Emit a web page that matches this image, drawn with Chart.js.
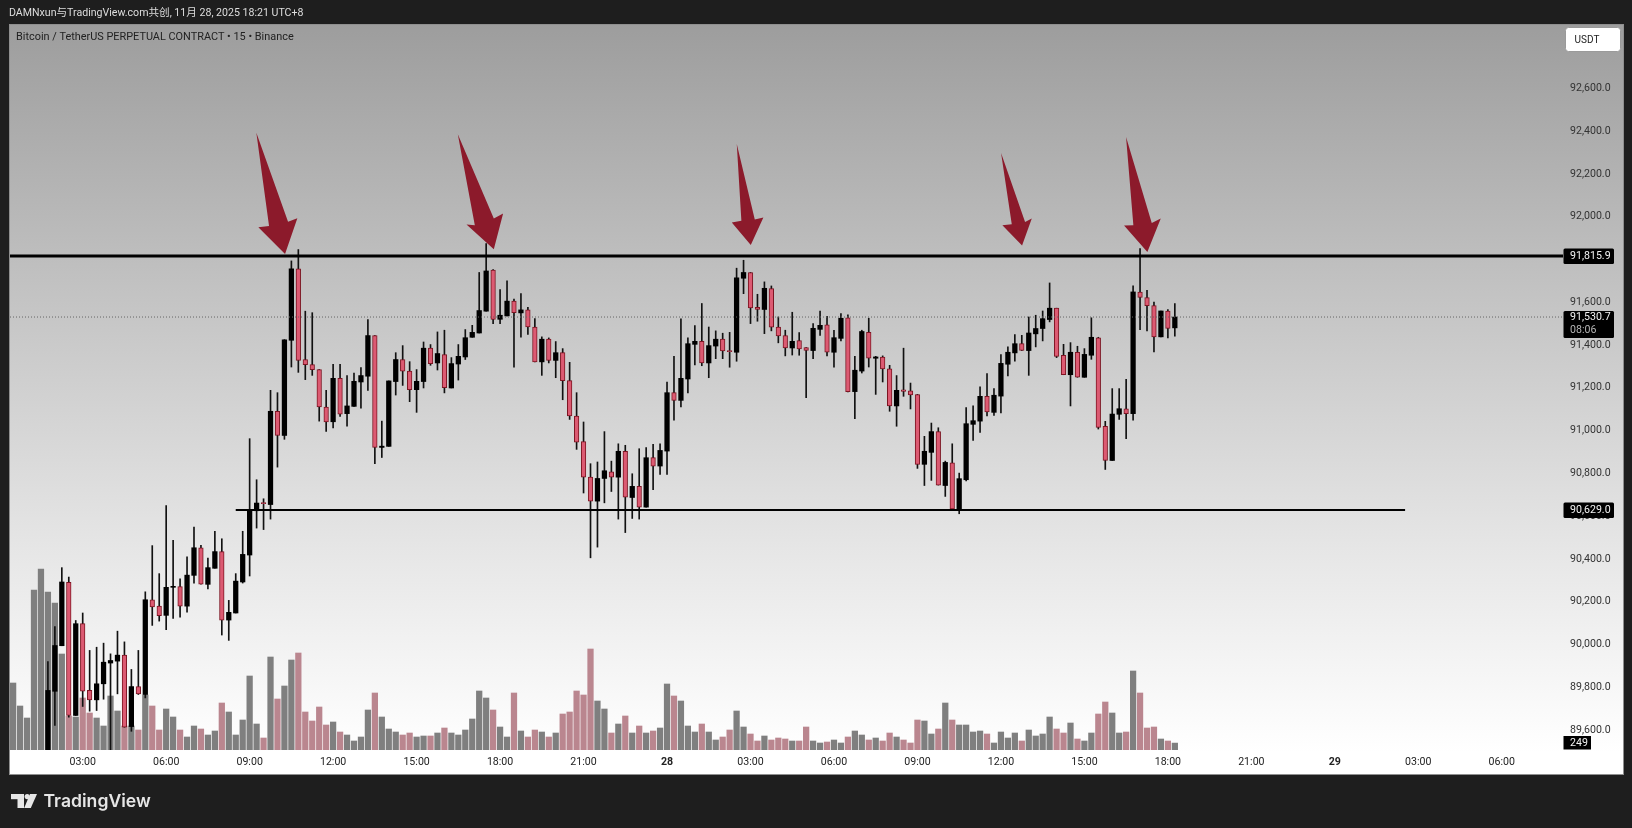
<!DOCTYPE html>
<html><head><meta charset="utf-8">
<script src="https://cdn.jsdelivr.net/npm/chart.js@4/dist/chart.umd.min.js"></script>
<style>html,body{margin:0;padding:0;background:#1e1e1e}canvas{display:block}</style>
</head><body><canvas id="c" width="1632" height="828"></canvas>
<script>
// 15-minute bars, index 0 = 27 Nov 00:30. Bars 0-4 sit below the visible price range.
const opens = [null,null,null,null,null,89488,89781,89994,90290,89668,
90097,89785,89741,89816,89913,89922,89950,89616,89803,89766,
90209,90179,90136,90267,90271,90179,90323,90452,90281,90356,
90434,90114,90147,90292,90418,90625,90662,90654,91090,90977,
91422,91756,91332,91308,91285,91110,91041,91244,91079,91113,
91227,91254,91444,90921,90926,91229,91332,91278,91191,91229,
91385,91316,91355,91199,91311,91344,91436,91456,91558,91750,
91520,91536,91605,91550,91564,91484,91321,91427,91328,91364,
91233,91068,90948,90782,90670,90776,90807,90782,90903,90687,
90739,90642,90873,90834,90904,91177,91141,91241,91403,91417,
91316,91395,91427,91374,91366,91712,91739,91576,91566,91664,
91484,91444,91386,91420,91388,91374,91473,91494,91366,91431,
91527,91182,91278,91459,91338,91344,91289,91115,91190,91186,
91168,90842,90898,90995,90743,90849,90633,90770,91029,91044,
91160,91085,91161,91310,91363,91406,91374,91452,91477,91519,
91572,91352,91261,91366,91249,91352,91434,91020,90860,91076,
91102,91079,91647,91622,91584,91438,91559,91480];
const highs = [null,null,null,null,null,89920,90084,90359,90315,90112,
90147,89972,89987,90006,89956,90062,90012,89883,89972,90246,
90462,90331,90649,90487,90307,90409,90549,90463,90404,90529,
90494,90206,90331,90529,90962,90770,90681,91188,91177,91425,
91793,91846,91558,91551,91285,91188,91310,91310,91257,91269,
91294,91519,91444,91044,91232,91364,91397,91322,91285,91414,
91402,91461,91469,91341,91402,91472,91492,91739,91874,91753,
91659,91700,91615,91640,91576,91523,91438,91433,91416,91383,
91319,91177,91040,90845,90853,90995,90857,90938,90931,90798,
90915,90920,90935,90938,91227,91347,91522,91434,91491,91594,
91484,91466,91455,91459,91759,91796,91739,91637,91695,91676,
91531,91469,91553,91458,91388,91500,91559,91534,91469,91547,
91541,91347,91469,91525,91347,91349,91305,91257,91385,91222,
91169,90973,91035,91013,90857,90938,90801,91107,91115,91204,
91266,91196,91355,91391,91449,91445,91531,91539,91559,91690,
91572,91403,91411,91394,91383,91527,91436,91043,91196,91196,
91239,91676,91851,91656,91601,91559,91566,91594];
const lows = [null,null,null,null,null,89473,89621,89994,89660,89668,
89710,89688,89691,89744,89457,89769,89613,89594,89766,89750,
90089,90109,90069,90122,90128,90151,90287,90282,90260,90356,
90044,90019,90147,90287,90320,90544,90537,90586,90829,90959,
91297,91272,91238,91258,91044,90996,91012,91066,91020,91113,
91105,91188,90845,90874,90926,91166,91211,91135,91085,91199,
91305,91283,91176,91199,91236,91332,91436,91456,91558,91500,
91500,91536,91296,91436,91449,91321,91258,91316,91247,91144,
91052,90912,90708,90405,90455,90662,90715,90586,90523,90589,
90586,90642,90723,90795,90795,91048,91110,91176,91307,91303,
91247,91336,91336,91296,91324,91640,91500,91511,91453,91466,
91410,91349,91353,91352,91154,91336,91445,91349,91296,91419,
91180,91055,91269,91297,91169,91227,91090,91020,91160,91101,
90823,90743,90767,90745,90692,90633,90611,90764,90954,90991,
91068,91071,91082,91255,91324,91374,91258,91391,91419,91508,
91341,91261,91115,91249,91249,91333,91007,90818,90860,91052,
90962,91048,91472,91466,91367,91438,91433,91441];
const closes = [null,null,null,null,null,89785,89995,90292,89668,90097,
89781,89741,89816,89917,89925,89950,89613,89803,89769,90209,
90175,90134,90267,90271,90179,90324,90452,90282,90359,90434,
90114,90150,90296,90421,90624,90661,90658,91090,90977,91424,
91756,91328,91308,91285,91110,91040,91244,91076,91115,91230,
91257,91444,90921,90927,91232,91332,91278,91191,91230,91385,
91313,91360,91200,91313,91347,91434,91459,91561,91746,91520,
91539,91605,91551,91564,91484,91321,91427,91328,91364,91233,
91068,90946,90782,90670,90776,90812,90782,90903,90689,90739,
90642,90873,90834,90907,91177,91141,91244,91406,91417,91316,
91397,91427,91372,91369,91714,91739,91573,91566,91665,91483,
91442,91386,91417,91381,91375,91478,91492,91366,91434,91525,
91182,91282,91463,91338,91344,91288,91115,91188,91183,91166,
90842,90903,90995,90745,90851,90633,90775,91032,91046,91160,
91087,91165,91314,91366,91406,91374,91456,91477,91523,91572,
91347,91261,91366,91250,91356,91436,91015,90860,91077,91102,
91079,91648,91622,91584,91438,91559,91478,91530.7];
const volumes = [2412,1584,1152,5760,6516,5688,5292,3456,1224,1188,
1872,1332,1152,864,1944,1404,864,864,720,1980,
1584,720,1476,1188,720,468,864,756,540,684,
1692,1368,540,1080,2664,936,432,3348,1836,2304,
3240,3492,1368,1044,1548,900,1008,648,540,324,
468,1440,2052,1188,756,648,540,612,468,504,
504,612,792,612,540,720,1116,2124,1872,1440,
828,468,2052,684,468,720,648,468,612,1296,
1368,2124,1980,3636,1764,1476,612,936,1224,612,
864,612,684,792,2376,1944,1764,864,648,936,
648,360,468,720,1404,828,576,324,504,360,
432,396,324,324,828,324,252,288,360,252,
468,684,540,360,432,324,612,468,360,252,
1080,1044,576,756,1692,1080,900,900,648,684,
576,252,648,432,612,324,720,504,576,1188,
756,612,972,396,324,612,1296,1728,1332,612,
648,2844,2052,792,828,396,324,249];

const xTickIndex = [10,22,34,46,58,70,82,94,106,118,130,142,154,166,178,190,202,214];
const xTickLabels = ['03:00','06:00','09:00','12:00','15:00','18:00','21:00','28','03:00','06:00','09:00','12:00','15:00','18:00','21:00','29','03:00','06:00'];
const xBoldLabels = ['28','29'];
const yTicks = [89600,89800,90000,90200,90400,90600,90800,91000,91200,91400,91600,91800,92000,92200,92400,92600];

const resistance = 91815.9, support = 90629.0, lastPrice = 91530.7;
const supportFrom = 32, supportTo = 200.1;
const lastVolume = 249;
const arrowTips = [[39.09,91825],[69.1,91848],[106.04,91867],[145.04,91865],[163.05,91835]];
// outline of each hand-drawn arrow, in pixels relative to its tip
const arrowOutlines = [
 [[-28.7,-121.3],[3,-32.3],[12.3,-35.7],[0,0],[-26.7,-26.7],[-16,-28]],
 [[-36,-115],[0,-30.7],[9.3,-35.7],[0,0],[-27.3,-24.7],[-19,-24]],
 [[-14,-101],[4,-25.7],[12.6,-27.7],[0,0],[-19,-22.7],[-9.4,-24.3]],
 [[-21,-92.6],[3,-23.6],[9.7,-27],[0,0],[-19.7,-20.3],[-10.3,-21.3]],
 [[-21.3,-115],[4.4,-29],[13.4,-33.4],[0,0],[-23.3,-26.4],[-14,-26.7]]
];
const headerText = 'DAMNxun与TradingView.com共创, 11月 28, 2025 18:21 UTC+8';
const titleText = 'Bitcoin / TetherUS PERPETUAL CONTRACT • 15 • Binance';
const FONT = 'Roboto, "Noto Sans CJK SC", sans-serif';

const fmt = v => v.toLocaleString('en-US',{minimumFractionDigits:1,maximumFractionDigits:1});
const isDown = i => opens[i]!==null && opens[i]>closes[i];
const idx = opens.map((_,i)=>i);
const shown = idx.filter(i=>opens[i]!==null);
const XMIN=-0.45, XMAX=222.8;

const frame = {
  id:'frame',
  beforeDraw(ch){
    const c=ch.ctx, W=ch.width, H=ch.height;
    c.save();
    c.fillStyle='#1e1e1e'; c.fillRect(0,0,W,H);
    const g=c.createLinearGradient(0,24,0,752);
    g.addColorStop(0,'#9d9d9d'); g.addColorStop(.4,'#c6c6c6'); g.addColorStop(.72,'#e6e6e6'); g.addColorStop(1,'#ffffff');
    c.fillStyle='#ffffff'; c.fillRect(10,24,1613,750);
    c.fillStyle=g; c.fillRect(10,24,1613,728);
    c.strokeStyle='#8f8f8f'; c.lineWidth=1; c.strokeRect(9.5,24.5,1614,750);
    c.restore();
  },
  afterDraw(ch){
    const c=ch.ctx, xs=ch.scales.x, ys=ch.scales.y;
    c.save();
    // arrows
    c.fillStyle='#8c1a2b';
    arrowTips.forEach((t,k)=>{
      const px=xs.getPixelForValue(t[0]), py=ys.getPixelForValue(t[1]);
      c.beginPath();
      arrowOutlines[k].forEach((p,i)=>{ i?c.lineTo(px+p[0],py+p[1]):c.moveTo(px+p[0],py+p[1]); });
      c.closePath(); c.fill();
    });
    // header and title
    c.textBaseline='middle'; c.textAlign='left';
    c.fillStyle='#dedede'; c.font='10.6px '+FONT; c.fillText(headerText,9,13);
    c.fillStyle='#222'; c.font='10.9px '+FONT; c.fillText(titleText,16,37);
    // currency button
    c.beginPath(); c.roundRect(1565.5,27.5,55,24,3); c.fillStyle='#fff'; c.fill();
    c.strokeStyle='#9a9a9a'; c.stroke();
    c.fillStyle='#222'; c.font='10px '+FONT; c.textAlign='center'; c.fillText('USDT',1587,40);
    // price tags
    c.textAlign='left';
    const tag=(val,txt)=>{
      const y=ys.getPixelForValue(val);
      c.fillStyle='#000'; c.beginPath(); c.roundRect(1563.5,y-7.5,50.5,15.5,1.5); c.fill();
      c.fillStyle='#f2f2f2'; c.font='10.6px '+FONT; c.fillText(txt,1570,y+0.5);
    };
    tag(resistance,fmt(resistance));
    tag(support,fmt(support));
    const ly=ys.getPixelForValue(lastPrice);
    c.fillStyle='#000'; c.beginPath(); c.roundRect(1563.5,ly-6,50.5,27,1.5); c.fill();
    c.fillStyle='#f2f2f2'; c.font='10.6px '+FONT; c.fillText(fmt(lastPrice),1570,ly+0.5);
    c.fillStyle='#b5b5b5'; c.fillText('08:06',1570,ly+13.5);
    c.fillStyle='#000'; c.fillRect(1563.5,736,27.5,13.5);
    c.fillStyle='#f2f2f2'; c.fillText(String(lastVolume),1570,743);
    // wordmark
    c.fillStyle='#e6e6e6';
    c.fillRect(11,794,13,5.2); c.fillRect(17.5,794,6.5,14);
    c.beginPath(); c.arc(27.2,796.6,2.6,0,Math.PI*2); c.fill();
    c.beginPath(); c.moveTo(30,794); c.lineTo(37,794); c.lineTo(30.8,808); c.lineTo(24.2,808); c.closePath(); c.fill();
    c.font='600 17.6px Inter, '+FONT; c.textBaseline='middle'; c.fillStyle='#e6e6e6'; c.fillText('TradingView',43.5,802);
    c.restore();
  }
};

new Chart(document.getElementById('c'),{
  type:'bar',
  data:{datasets:[
    {type:'line',label:'Resistance',order:1,yAxisID:'y',data:[{x:XMIN,y:resistance},{x:XMAX,y:resistance}],
      borderColor:'#000',borderWidth:3,pointRadius:0},
    {type:'line',label:'Support',order:1,yAxisID:'y',data:[{x:supportFrom,y:support},{x:supportTo,y:support}],
      borderColor:'#000',borderWidth:2,pointRadius:0},
    {type:'line',label:'Last price',order:2,yAxisID:'y',data:[{x:XMIN,y:lastPrice},{x:XMAX,y:lastPrice}],
      borderColor:'#666',borderWidth:1,borderDash:[1,2],pointRadius:0},
    {label:'Body',order:3,yAxisID:'y',grouped:false,barThickness:4.6,minBarLength:1,
      data:shown.map(i=>({x:i,y:[opens[i],closes[i]]})),
      backgroundColor:shown.map(i=>isDown(i)?'#dc5a72':'#000'),
      borderColor:shown.map(i=>isDown(i)?'#7d1522':'#000'),
      borderWidth:shown.map(i=>isDown(i)?1:0),borderSkipped:false},
    {label:'Wick',order:4,yAxisID:'y',grouped:false,barThickness:1,
      data:shown.map(i=>({x:i,y:[lows[i],highs[i]]})),
      backgroundColor:'#111',borderWidth:0},
    {label:'Volume',order:5,yAxisID:'vol',grouped:false,barThickness:5.6,
      data:idx.map(i=>({x:i,y:volumes[i]})),
      backgroundColor:idx.map(i=>isDown(i)?'#ba868f':'#7f7f7f'),borderWidth:0}
  ]},
  options:{
    responsive:false,animation:false,
    layout:{padding:{left:10,top:24,right:9,bottom:54}},
    plugins:{legend:{display:false},tooltip:{enabled:false}},
    scales:{
      x:{type:'linear',offset:false,min:XMIN,max:XMAX,grid:{display:false,drawTicks:false,offset:false},border:{display:false},
        afterBuildTicks(s){s.ticks=xTickIndex.map(v=>({value:v}));},
        afterFit(s){s.height=24;},
        ticks:{autoSkip:false,maxRotation:0,padding:6,color:'#222',
          callback:(v,i)=>xTickLabels[i],
          font:ctx=>({family:FONT,size:10.6,weight:xBoldLabels.includes(xTickLabels[ctx.index])?'bold':'normal'})}},
      y:{type:'linear',position:'right',min:89506.5,max:92900.6,grid:{display:false,drawTicks:false},border:{display:false},
        afterBuildTicks(s){s.ticks=yTicks.map(v=>({value:v}));},
        afterFit(s){s.width=60;},
        ticks:{autoSkip:false,padding:7,color:'#333',font:{family:FONT,size:10.6},callback:v=>fmt(v)}},
      vol:{type:'linear',display:false,min:0,max:26136}
    }
  },
  plugins:[frame]
});
</script></body></html>
